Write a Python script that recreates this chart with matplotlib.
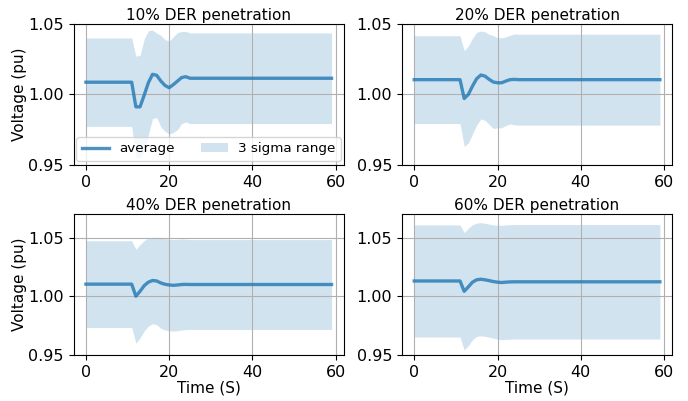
import numpy as np
import matplotlib
matplotlib.use("Agg")
import matplotlib.pyplot as plt

# time axis, one sample per second
time = np.arange(60)

titles = ["10% DER penetration", "20% DER penetration",
          "40% DER penetration", "60% DER penetration"]

# average voltage (pu), t = 0..24, then steady value up to t = 59
mean_10 = [1.0087] * 12 + [0.9912, 0.9912, 0.9995, 1.0083, 1.0143, 1.0136, 1.0095,
                           1.0064, 1.0048, 1.0070, 1.0095, 1.0120, 1.0126]
mean_20 = [1.0105] * 12 + [0.9971, 1.0000, 1.0060, 1.0112, 1.0138, 1.0130, 1.0107,
                           1.0088, 1.0083, 1.0083, 1.0095, 1.0105, 1.0107]
mean_40 = [1.0103] * 12 + [1.0000, 1.0042, 1.0090, 1.0120, 1.0134, 1.0130, 1.0113,
                           1.0102, 1.0096, 1.0093, 1.0096, 1.0100, 1.0101]
mean_60 = [1.0130] * 12 + [1.0042, 1.0080, 1.0120, 1.0140, 1.0145, 1.0140, 1.0133,
                           1.0125, 1.0120, 1.0117, 1.0120, 1.0122, 1.0123]
steady_mean = [1.0115, 1.0105, 1.0100, 1.0123]

# 3 sigma half-width (pu), t = 0..24, then steady value
band_10 = [0.0314] * 12 + [0.0360, 0.0365, 0.0400, 0.0370, 0.0314, 0.0300, 0.0325,
                           0.0326, 0.0330, 0.0340, 0.0345, 0.0327, 0.0322]
band_20 = [0.0312] * 12 + [0.0340, 0.0345, 0.0340, 0.0330, 0.0312, 0.0315, 0.0320,
                           0.0330, 0.0320, 0.0320, 0.0315, 0.0315, 0.0323]
band_40 = [0.0370] * 12 + [0.0400, 0.0398, 0.0385, 0.0375, 0.0368, 0.0373, 0.0387,
                           0.0390, 0.0390, 0.0390, 0.0390, 0.0388, 0.0385]
band_60 = [0.0478] * 12 + [0.0500, 0.0500, 0.0490, 0.0483, 0.0482, 0.0482, 0.0482,
                           0.0483, 0.0485, 0.0488, 0.0488, 0.0488, 0.0488]
steady_band = [0.0322, 0.0323, 0.0383, 0.0488]

ylims = [(0.95, 1.05), (0.95, 1.05), (0.95, 1.07), (0.95, 1.07)]

means = [mean_10, mean_20, mean_40, mean_60]
bands = [band_10, band_20, band_40, band_60]

plt.rcParams["font.size"] = 11

fig, axes = plt.subplots(2, 2, figsize=(6.88, 4.01), dpi=100)
fig.subplots_adjust(left=0.107, right=0.977, top=0.94, bottom=0.115,
                    wspace=0.215, hspace=0.35)

for k, ax in enumerate(axes.flat):
    n_rest = len(time) - len(means[k])
    m = np.array(means[k] + [steady_mean[k]] * n_rest)
    b = np.array(bands[k] + [steady_band[k]] * n_rest)
    ax.plot(time, m, color="C0", lw=2.4, alpha=0.8, label="average")
    ax.fill_between(time, m - b, m + b, color="C0", alpha=0.2, lw=0,
                    label="3 sigma range")
    ax.set_title(titles[k], fontsize=11, pad=3)
    ax.set_ylim(*ylims[k])
    ax.set_yticks([0.95, 1.00, 1.05])
    ax.set_yticklabels(["0.95", "1.00", "1.05"])
    ax.set_xticks([0, 20, 40, 60])
    ax.tick_params(labelsize=11.5)
    ax.grid(True)
    if k % 2 == 0:
        ax.set_ylabel("Voltage (pu)", labelpad=1)
    if k >= 2:
        ax.set_xlabel("Time (S)", labelpad=1)
    if k == 0:
        ax.legend(loc="lower center", ncol=2, fontsize=9.7,
                  borderaxespad=0.3, columnspacing=1.9)

fig.savefig("out.png", dpi=100)
